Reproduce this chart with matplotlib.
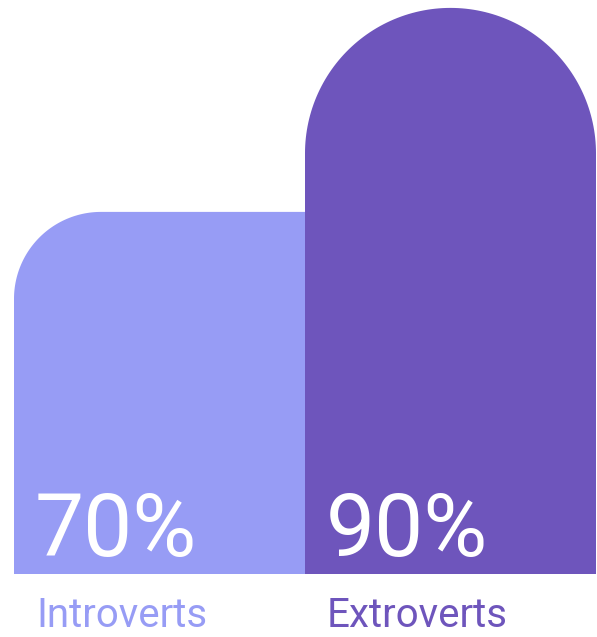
import numpy as np
import matplotlib
matplotlib.use("Agg")
import matplotlib.pyplot as plt
from matplotlib.patches import Polygon

categories = ["Introverts", "Extroverts"]
values = [70, 90]
labels = ["70%", "90%"]
colors = ["#979CF5", "#6E55BC"]

W, H = 597, 637
base = 34.5          # value where the bars start (axis is cut off below)
px_x = 291.0         # pixels per x unit (one bar width)
px_y = 10.2          # pixels per value unit


def bar_shape(left, right, bottom, top, r_left, r_right):
    # outline of a bar with circular top corners, radii given in pixels
    rx_l, ry_l = r_left / px_x, r_left / px_y
    rx_r, ry_r = r_right / px_x, r_right / px_y
    t = np.linspace(0, np.pi / 2, 60)
    pts = [(left, bottom)]
    pts += list(zip(left + rx_l - rx_l * np.cos(t), top - ry_l + ry_l * np.sin(t)))
    pts += list(zip(right - rx_r + rx_r * np.sin(t), top - ry_r + ry_r * np.cos(t)))
    pts.append((right, bottom))
    return pts


fig = plt.figure(figsize=(W / 100, H / 100), dpi=100)
ax = fig.add_axes([0, 0, 1, 1])
ax.set_xlim(-159.5 / px_x, (W - 159.5) / px_x)
ax.set_ylim(base - 63 / px_y, base + (H - 63) / px_y)
ax.axis("off")

radii = [(87, 0), (145.5, 145.5)]
for i, (v, c, (rl, rr)) in enumerate(zip(values, colors, radii)):
    ax.add_patch(Polygon(bar_shape(i - 0.5, i + 0.5, base, v, rl, rr),
                         closed=True, facecolor=c, edgecolor="none",
                         zorder=2 + i))

for i, (lab, cat, c) in enumerate(zip(labels, categories, colors)):
    ax.annotate(lab, (i - 0.5, base), xytext=(21, 18), textcoords="offset pixels",
                ha="left", va="baseline", color="white", fontsize=63,
                family=["Roboto", "DejaVu Sans"], zorder=10)
    ax.annotate(cat, (i - 0.5, base), xytext=(22, -53), textcoords="offset pixels",
                ha="left", va="baseline", color=c, fontsize=29,
                family=["Roboto", "DejaVu Sans"], zorder=10, annotation_clip=False)

fig.savefig("out.png", dpi=100)
